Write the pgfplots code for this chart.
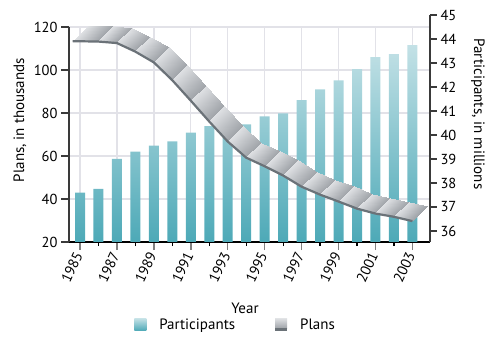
\documentclass[border=0pt]{standalone}
\usepackage{fontspec}
\setmainfont{PT Sans}
\usepackage{pgfplots}
\pgfplotsset{compat=1.18}
\usepackage{pgfplotstable}

\definecolor{barTop}{HTML}{C3E1E6}
\definecolor{barBot}{HTML}{4DA9B7}
\definecolor{ribLight}{HTML}{DEE0E3}
\definecolor{ribDark}{HTML}{A0A4A9}
\definecolor{ribEdge}{HTML}{6B7278}
\definecolor{gridc}{HTML}{E2E2E8}
\definecolor{axc}{HTML}{3A3A3A}

\pgfplotstableread{
year part
1985 37.60
1986 37.75
1987 39.00
1988 39.31
1989 39.56
1990 39.73
1991 40.10
1992 40.37
1993 40.40
1994 40.44
1995 40.78
1996 40.90
1997 41.45
1998 41.90
1999 42.28
2000 42.74
2001 43.24
2002 43.37
2003 43.74
}\participants

\pgfplotstableread{
year plans
1984.6 113.7
1986 113.5
1987 112.8
1988 108.8
1989 103.8
1990 95.5
1991 86.0
1992 76.3
1993 67.0
1994 59.5
1995 55.5
1996 51.2
1997 46.0
1998 42.3
1999 39.1
2000 35.8
2001 33.5
2002 32.0
2003 30.0
}\plans

\pgfplotstableread{
x y c s
1984.6 113.7 0 0
1986 113.5 1 0
1986 113.5 1 1
1984.6 113.7 0 1
1986 113.5 0 0
1987 112.8 1 0
1987 112.8 1 1
1986 113.5 0 1
1987 112.8 0 0
1988 108.8 1 0
1988 108.8 1 1
1987 112.8 0 1
1988 108.8 0 0
1989 103.8 1 0
1989 103.8 1 1
1988 108.8 0 1
1989 103.8 0 0
1990 95.5 1 0
1990 95.5 1 1
1989 103.8 0 1
1990 95.5 0 0
1991 86.0 1 0
1991 86.0 1 1
1990 95.5 0 1
1991 86.0 0 0
1992 76.3 1 0
1992 76.3 1 1
1991 86.0 0 1
1992 76.3 0 0
1993 67.0 1 0
1993 67.0 1 1
1992 76.3 0 1
1993 67.0 0 0
1994 59.5 1 0
1994 59.5 1 1
1993 67.0 0 1
1994 59.5 0 0
1995 55.5 1 0
1995 55.5 1 1
1994 59.5 0 1
1995 55.5 0 0
1996 51.2 1 0
1996 51.2 1 1
1995 55.5 0 1
1996 51.2 0 0
1997 46.0 1 0
1997 46.0 1 1
1996 51.2 0 1
1997 46.0 0 0
1998 42.3 1 0
1998 42.3 1 1
1997 46.0 0 1
1998 42.3 0 0
1999 39.1 1 0
1999 39.1 1 1
1998 42.3 0 1
1999 39.1 0 0
2000 35.8 1 0
2000 35.8 1 1
1999 39.1 0 1
2000 35.8 0 0
2001 33.5 1 0
2001 33.5 1 1
2000 35.8 0 1
2001 33.5 0 0
2002 32.0 1 0
2002 32.0 1 1
2001 33.5 0 1
2002 32.0 0 0
2003 30.0 1 0
2003 30.0 1 1
2002 32.0 0 1
}\ribbon

\pgfplotsset{
  base/.style={
    scale only axis, width=361bp,
    xmin=1984.404, xmax=2003.953,
    at={(0,0)}, anchor=south west,
    /pgf/number format/assume math mode=true,
    tick label style={font=\fontsize{14.5bp}{16bp}\selectfont},
    label style={font=\fontsize{15bp}{17bp}\selectfont},
  }
}

\begin{document}
\begin{tikzpicture}
\path[use as bounding box] (-69bp,-97bp) rectangle (421bp,242bp);

% Left axis: grid, axis lines, labels, legend
\begin{axis}[base, height=215bp,
  ymin=20, ymax=120, ytick={20,40,...,120},
  xtick={1985,1987,...,2003}, minor xtick={1986,1988,...,2002},
  xticklabel style={rotate=65, anchor=east, /pgf/number format/1000 sep={}},
  axis x line*=bottom, axis y line*=left,
  x axis line style={black, line width=1.3bp},
  y axis line style={axc, line width=1.2bp},
  xmajorgrids, ymajorgrids,
  grid style={gridc, line width=1.3bp},
  tick align=outside, major tick length=8bp, minor tick length=4bp,
  major x tick style={gray, line width=1.4bp},
  minor x tick style={black, line width=1.2bp},
  ytick style={axc, line width=1.1bp},
  ylabel={Plans, in thousands},
  ylabel style={at={(axis description cs:-0.1357,0.567)}, anchor=center},
  xlabel={Year},
  xlabel style={at={(axis description cs:0.4875,0)}, yshift=-66bp, anchor=center},
  legend style={at={(axis description cs:0.172,-0.384)}, anchor=west,
    draw=none, fill=none, legend columns=2,
    font=\fontsize{15bp}{17bp}\selectfont,
    /tikz/every even column/.append style={column sep=38bp}},
]
\addlegendimage{legend image code/.code={\path[draw=none, top color=barTop, bottom color=barBot] (0bp,-6bp) rectangle (12bp,6bp); \path[draw=none] (0bp,0bp) -- (23bp,0bp);}}
\addlegendentry{Participants}
\addlegendimage{legend image code/.code={\path[draw=none, top color=ribLight, bottom color=ribDark] (0bp,-3.5bp) rectangle (12bp,6bp); \path[draw=none, fill=ribEdge] (0bp,-6bp) rectangle (12bp,-3.5bp); \path[draw=none] (0bp,0bp) -- (23bp,0bp);}}
\addlegendentry{Plans}
\end{axis}

% Right axis: participants bars
\begin{axis}[base, height=227bp,
  ymin=35.54, ymax=45, ytick={36,...,45},
  axis y line*=right, axis x line=none,
  y axis line style={axc, line width=1.2bp},
  tick align=outside, major tick length=7bp,
  ytick style={axc, line width=1.1bp},
  ybar stacked, bar width=10bp,
  ylabel={Participants, in millions},
  ylabel style={at={(axis description cs:1.133,0.564)}, anchor=center, rotate=180},
]
\addplot[draw=none, fill=none] table[x=year, y expr=35.54] \participants;
\addplot[draw=none, top color=barTop, bottom color=barBot] table[x=year, y expr=\thisrow{part}-35.54] \participants;
\end{axis}

% Plans ribbon
\begin{axis}[base, height=215bp, ymin=20, ymax=120, hide axis, clip=false,
  colormap={rib}{color(0)=(ribLight) color(1)=(ribDark)},
  point meta min=0, point meta max=1]
\addplot[patch, patch type=rectangle, shader=interp, point meta=explicit]
  table[x expr=\thisrow{x}+0.812*\thisrow{s}, y expr=\thisrow{y}+6.74*\thisrow{s}, meta=c] \ribbon;
\addplot[no marks, ribEdge, line width=2.2bp, yshift=-0.6bp] table[x=year, y=plans] \plans;
\end{axis}
\end{tikzpicture}
\end{document}
